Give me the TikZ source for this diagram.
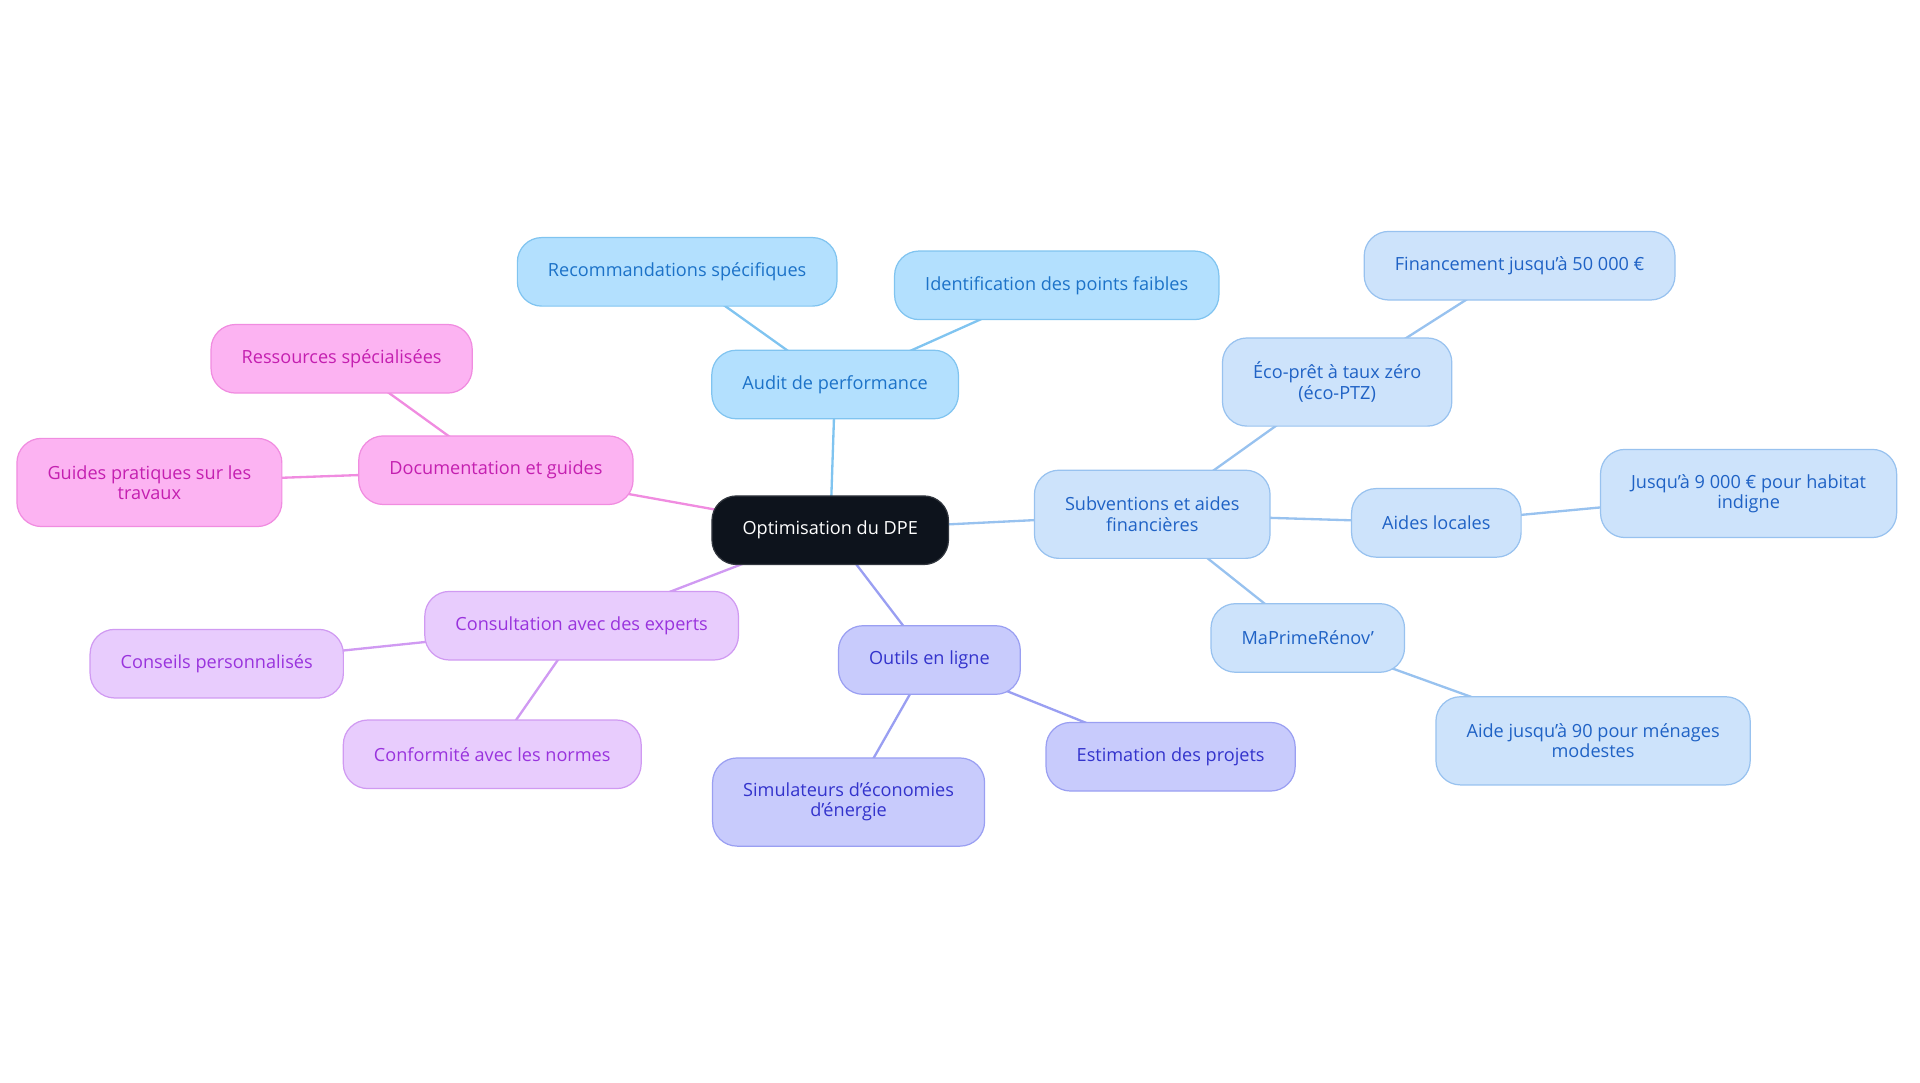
\documentclass[tikz,border=0pt]{standalone}
\usepackage{fontspec}
\setmainfont{Open Sans}
\usetikzlibrary{backgrounds}

\newcommand{\sq}{\symbol{39}}

\definecolor{rootbg}{HTML}{0D131C}
\definecolor{auditbg}{HTML}{B3E0FE}
\definecolor{auditln}{HTML}{80C4F0}
\definecolor{audittx}{HTML}{1C72C8}
\definecolor{subvbg}{HTML}{CDE3FB}
\definecolor{subvln}{HTML}{98C2EF}
\definecolor{subvtx}{HTML}{1F62C5}
\definecolor{docbg}{HTML}{FCB3F2}
\definecolor{docln}{HTML}{F08CE0}
\definecolor{doctx}{HTML}{C41FB0}
\definecolor{consbg}{HTML}{E8CCFD}
\definecolor{consln}{HTML}{D09AF2}
\definecolor{constx}{HTML}{9933DD}
\definecolor{toolbg}{HTML}{C8CBFC}
\definecolor{toolln}{HTML}{9A9FF2}
\definecolor{tooltx}{HTML}{3333CC}

\tikzset{
  box/.style={rounded corners=20pt, draw, line width=1pt, inner xsep=25pt,
    minimum height=56pt, align=center, font=\fontsize{14.8}{16.5}\selectfont},
  tall/.style={minimum height=72pt},
  root/.style={box, fill=rootbg, draw=rootbg!85!white, text=white},
  audit/.style={box, fill=auditbg, draw=auditln, text=audittx},
  subv/.style={box, fill=subvbg, draw=subvln, text=subvtx},
  doc/.style={box, fill=docbg, draw=docln, text=doctx},
  cons/.style={box, fill=consbg, draw=consln, text=constx},
  tool/.style={box, fill=toolbg, draw=toolln, text=tooltx},
  link/.style={line width=1.9pt}
}

\begin{document}
\begin{tikzpicture}[x=1pt,y=-1pt]
\useasboundingbox (0,0) rectangle (1568,884);

\node[root] (dpe) at (678,433) {Optimisation du DPE};

\node[audit] (audit) at (682,314) {Audit de performance};
\node[audit] (recos) at (553,222) {Recommandations spécifiques};
\node[audit] (faibles) at (863,233) {Identification des points faibles};

\node[doc] (docs) at (405,384) {Documentation et guides};
\node[doc] (ressources) at (279,293) {Ressources spécialisées};
\node[doc,tall] (guides) at (122,394) {Guides pratiques sur les\\travaux};

\node[cons] (experts) at (475,511) {Consultation avec des experts};
\node[cons] (conseils) at (177,542) {Conseils personnalisés};
\node[cons] (normes) at (402,616) {Conformité avec les normes};

\node[tool] (outils) at (759,539) {Outils en ligne};
\node[tool,tall] (simul) at (693,655) {Simulateurs d\sq économies\\d\sq énergie};
\node[tool] (estim) at (956,618) {Estimation des projets};

\node[subv,tall] (subv) at (941,420) {Subventions et aides\\financières};
\node[subv,tall] (ptz) at (1092,312) {Éco-prêt à taux zéro\\(éco-PTZ)};
\node[subv] (financement) at (1241,217) {Financement jusqu\sq à 50 000 €};
\node[subv] (locales) at (1173,427) {Aides locales};
\node[subv,tall] (indigne) at (1428,403) {Jusqu\sq à 9 000 € pour habitat\\indigne};
\node[subv] (mpr) at (1068,521) {MaPrimeRénov\sq};
\node[subv,tall] (modestes) at (1301,605) {Aide jusqu\sq à 90 pour ménages\\modestes};

\begin{scope}[on background layer]
\draw[link,auditln] (dpe.center) -- (audit.center);
\draw[link,auditln] (audit.center) -- (recos.center);
\draw[link,auditln] (audit.center) -- (faibles.center);
\draw[link,docln] (dpe.center) -- (docs.center);
\draw[link,docln] (docs.center) -- (ressources.center);
\draw[link,docln] (docs.center) -- (guides.center);
\draw[link,consln] (dpe.center) -- (experts.center);
\draw[link,consln] (experts.center) -- (conseils.center);
\draw[link,consln] (experts.center) -- (normes.center);
\draw[link,toolln] (dpe.center) -- (outils.center);
\draw[link,toolln] (outils.center) -- (simul.center);
\draw[link,toolln] (outils.center) -- (estim.center);
\draw[link,subvln] (dpe.center) -- (subv.center);
\draw[link,subvln] (subv.center) -- (ptz.center);
\draw[link,subvln] (ptz.center) -- (financement.center);
\draw[link,subvln] (subv.center) -- (locales.center);
\draw[link,subvln] (locales.center) -- (indigne.center);
\draw[link,subvln] (subv.center) -- (mpr.center);
\draw[link,subvln] (mpr.center) -- (modestes.center);
\end{scope}
\end{tikzpicture}
\end{document}
